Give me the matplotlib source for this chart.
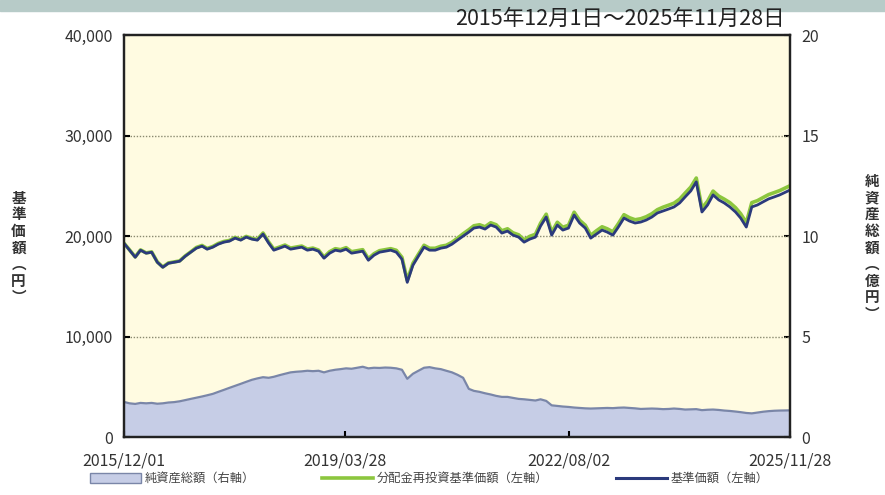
import numpy as np
import pandas as pd
import matplotlib
matplotlib.use('Agg')
import matplotlib.pyplot as plt
from matplotlib.patches import Patch, Rectangle
from matplotlib.lines import Line2D

plt.rcParams['font.family'] = ['Noto Sans CJK JP', 'DejaVu Sans']

# monthly readings, 2015-12 .. 2025-11
months = pd.date_range('2015-12-01', '2025-11-01', freq='MS')

nav = [
    19300,
    18600, 17900, 18600, 18300, 18400, 17400, 16900, 17300, 17400, 17500, 18000, 18400,
    18800, 19000, 18700, 18900, 19200, 19400, 19500, 19800, 19600, 19900, 19700, 19600,
    20200, 19300, 18600, 18800, 19000, 18700, 18800, 18900, 18600, 18700, 18500, 17800,
    18300, 18600, 18500, 18700, 18300, 18400, 18500, 17600, 18100, 18400, 18500, 18600,
    18400, 17700, 15400, 17100, 18000, 18900, 18600, 18600, 18800, 18900, 19200, 19600,
    20000, 20400, 20800, 20900, 20700, 21100, 20900, 20300, 20500, 20100, 19900, 19400,
    19700, 19900, 21000, 21900, 20100, 21100, 20600, 20800, 22100, 21300, 20800, 19800,
    20200, 20600, 20400, 20100, 20900, 21800, 21500, 21300, 21400, 21600, 21900, 22300,
    22500, 22700, 22900, 23300, 23900, 24500, 25400, 22400, 23100, 24100, 23600, 23300,
    22900, 22400, 21800, 20900, 22900, 23100, 23400, 23700, 23900, 24100, 24600,
]

nav_reinvest = [
    19300,
    18630, 17930, 18630, 18330, 18430, 17430, 16930, 17330, 17430, 17530, 18030, 18430,
    18870, 19070, 18770, 18970, 19270, 19470, 19570, 19870, 19670, 19970, 19770, 19670,
    20310, 19410, 18710, 18910, 19110, 18810, 18910, 19010, 18710, 18810, 18610, 17910,
    18450, 18750, 18650, 18850, 18450, 18550, 18650, 17750, 18250, 18550, 18650, 18750,
    18590, 17890, 15590, 17290, 18190, 19090, 18790, 18790, 18990, 19090, 19390, 19790,
    20230, 20630, 21030, 21130, 20930, 21330, 21130, 20530, 20730, 20330, 20130, 19630,
    19980, 20180, 21280, 22180, 20380, 21380, 20880, 21080, 22380, 21580, 21080, 20080,
    20530, 20930, 20730, 20430, 21230, 22130, 21830, 21630, 21730, 21930, 22230, 22630,
    22880, 23080, 23280, 23680, 24280, 24880, 25780, 22780, 23480, 24480, 23980, 23680,
    23330, 22830, 22230, 21330, 23330, 23530, 23830, 24130, 24330, 24530, 25030,
]

net_assets = [
    1.75,
    1.68, 1.65, 1.70, 1.68, 1.70, 1.66, 1.68, 1.72, 1.74, 1.78, 1.84, 1.90,
    1.96, 2.02, 2.08, 2.15, 2.25, 2.35, 2.45, 2.55, 2.65, 2.75, 2.85, 2.92,
    2.98, 2.95, 3.00, 3.08, 3.15, 3.22, 3.25, 3.27, 3.30, 3.28, 3.30, 3.22,
    3.30, 3.35, 3.38, 3.42, 3.40, 3.45, 3.50, 3.42, 3.45, 3.44, 3.46, 3.45,
    3.42, 3.35, 2.90, 3.15, 3.30, 3.45, 3.48, 3.42, 3.38, 3.30, 3.22, 3.10,
    2.95, 2.40, 2.30, 2.25, 2.18, 2.12, 2.05, 2.00, 2.00, 1.95, 1.90, 1.88,
    1.85, 1.82, 1.88, 1.80, 1.58, 1.55, 1.52, 1.50, 1.47, 1.45, 1.43, 1.42,
    1.43, 1.44, 1.45, 1.44, 1.46, 1.47, 1.45, 1.43, 1.40, 1.41, 1.42, 1.41,
    1.39, 1.40, 1.42, 1.40, 1.37, 1.38, 1.39, 1.34, 1.36, 1.37, 1.35, 1.32,
    1.30, 1.27, 1.24, 1.20, 1.18, 1.22, 1.26, 1.29, 1.31, 1.32, 1.33,
]

start = pd.Timestamp('2015-12-01')
end = pd.Timestamp('2025-11-28')
tick_dates = ['2015-12-01', '2019-03-28', '2022-08-02', '2025-11-28']
tick_labels = ['2015/12/01', '2019/03/28', '2022/08/02', '2025/11/28']
period_text = '2015年12月1日～2025年11月28日'

dates = list(months[:-1]) + [end]

fig = plt.figure(figsize=(8.85, 4.95), dpi=100)
fig.patches.append(Rectangle((0, 0.978), 1, 0.022, transform=fig.transFigure,
                             color='#b7cbc8', zorder=0))

ax = fig.add_axes([0.140, 0.117, 0.753, 0.812])
ax2 = ax.twinx()

# net assets area on right axis, drawn below the NAV lines
ax2.set_zorder(0)
ax.set_zorder(1)
ax.patch.set_visible(False)
ax2.patch.set_visible(True)
ax2.patch.set_facecolor('#fffbe1')
ax2.fill_between(dates, net_assets, 0, color='#c6cde6', lw=0)
ax2.plot(dates, net_assets, color='#7a86a8', lw=1.6)

ax.plot(dates, nav_reinvest, color='#8cc63e', lw=2.6)
ax.plot(dates, nav, color='#2b3a7c', lw=2.0)

ax.set_xlim(start, end)
ax.set_ylim(0, 40000)
ax2.set_ylim(0, 20)
ax.set_yticks([0, 10000, 20000, 30000, 40000])
ax.set_yticklabels(['0', '10,000', '20,000', '30,000', '40,000'])
ax2.set_yticks([0, 5, 10, 15, 20])
ax.set_xticks(pd.to_datetime(tick_dates))
ax.set_xticklabels(tick_labels)

for y in [10000, 20000, 30000]:
    ax.axhline(y, color='#8a8a70', lw=1.0, ls=(0, (1, 1.2)), zorder=0.5)

for a in (ax, ax2):
    for s in a.spines.values():
        s.set_linewidth(1.6)
        s.set_color('#222222')
ax.tick_params(axis='both', direction='in', length=4, width=1.5, labelsize=11.5,
               labelcolor='#333333', pad=8)
ax2.tick_params(axis='y', direction='in', length=4, width=1.5, labelsize=11.5,
                labelcolor='#333333', pad=8)
ax.tick_params(axis='x', pad=11)

fig.text(0.021, 0.50, '\n'.join('基準価額︵円︶'), ha='center', va='center',
         fontsize=10.5, color='#333333', linespacing=1.05, fontweight='bold')
fig.text(0.985, 0.50, '\n'.join('純資産総額︵億円︶'), ha='center', va='center',
         fontsize=10.5, color='#333333', linespacing=1.05, fontweight='bold')
fig.text(0.887, 0.962, period_text, ha='right', va='center', fontsize=15.5,
         color='#222222')

handles = [
    Patch(facecolor='#c6cde6', edgecolor='#7a86a8', label='純資産総額（右軸）'),
    Line2D([], [], color='#8cc63e', lw=2.6, label='分配金再投資基準価額（左軸）'),
    Line2D([], [], color='#2b3a7c', lw=2.2, label='基準価額（左軸）'),
]
fig.legend(handles=handles, loc='center', bbox_to_anchor=(0.485, 0.033), ncol=3,
           frameon=False, fontsize=8.8, handlelength=4.2, handleheight=0.9,
           columnspacing=5.5, handletextpad=0.3, labelcolor='#444444')

fig.savefig('out.png', dpi=100)
